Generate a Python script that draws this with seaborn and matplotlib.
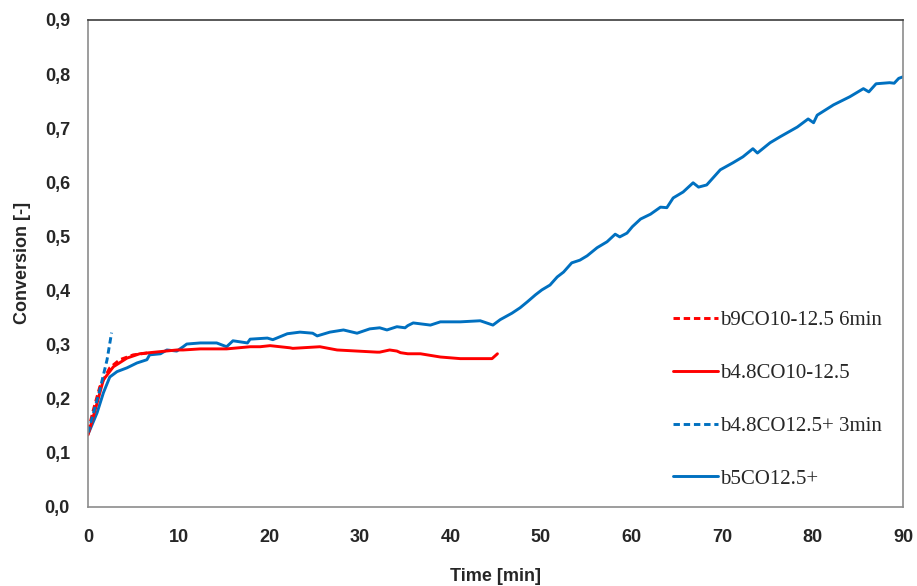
import matplotlib
matplotlib.use("Agg")
import matplotlib.pyplot as plt
import seaborn as sns

# b5CO12.5+ (blue solid)
t_b5 = [0, 0.2, 1.0, 1.7, 2.4, 3.2, 4.3, 5.4, 6.5, 6.8, 8.0, 8.7, 9.8, 10.5, 10.9,
        12.4, 14.2, 15.3, 16.0, 17.6, 17.9, 19.8, 20.4, 22.0, 23.4, 24.8, 25.3,
        26.7, 28.2, 29.7, 31.1, 32.2, 33.0, 34.1, 35.0, 35.3, 35.9, 37.8, 38.9,
        41.1, 43.3, 44.7, 45.5, 46.8, 47.7, 48.5, 49.4, 50.1, 51.0, 51.8, 52.5,
        53.4, 54.3, 55.1, 56.2, 57.3, 58.2, 58.7, 59.5, 60.1, 61.0, 62.1, 63.2,
        63.9, 64.6, 65.7, 66.8, 67.4, 68.3, 69.8, 71.2, 72.3, 73.4, 73.9, 75.3,
        76.4, 78.3, 79.5, 80.1, 80.5, 82.3, 84.1, 85.6, 86.2, 87.0, 88.5, 89.0,
        89.5, 90.0]
v_b5 = [0.135, 0.142, 0.174, 0.211, 0.240, 0.250, 0.257, 0.266, 0.272, 0.281,
        0.283, 0.290, 0.288, 0.296, 0.301, 0.303, 0.303, 0.296, 0.307, 0.303,
        0.310, 0.312, 0.309, 0.320, 0.323, 0.321, 0.316, 0.323, 0.327, 0.321,
        0.329, 0.331, 0.327, 0.333, 0.331, 0.335, 0.340, 0.336, 0.342, 0.342,
        0.344, 0.336, 0.346, 0.358, 0.368, 0.379, 0.392, 0.401, 0.410, 0.425,
        0.434, 0.451, 0.456, 0.464, 0.479, 0.490, 0.504, 0.499, 0.506, 0.518,
        0.532, 0.541, 0.554, 0.553, 0.571, 0.582, 0.599, 0.591, 0.595, 0.623,
        0.636, 0.647, 0.662, 0.654, 0.673, 0.684, 0.702, 0.717, 0.710, 0.724,
        0.743, 0.758, 0.773, 0.767, 0.782, 0.784, 0.783, 0.792, 0.795]

# b4.8CO10-12.5 (red solid)
t_b48 = [0, 1.0, 1.7, 2.8, 4.3, 5.7, 6.8, 8.0, 9.8, 10.5, 12.4, 15.3, 17.9, 19.0,
         20.1, 22.3, 22.6, 25.6, 27.5, 29.7, 31.9, 32.2, 33.3, 34.1, 34.5, 35.3,
         36.7, 38.9, 41.1, 43.3, 44.6, 45.2]
v_b48 = [0.133, 0.192, 0.235, 0.259, 0.275, 0.283, 0.285, 0.287, 0.290, 0.290,
         0.292, 0.292, 0.296, 0.296, 0.298, 0.294, 0.293, 0.296, 0.290, 0.288,
         0.286, 0.286, 0.290, 0.288, 0.285, 0.283, 0.283, 0.277, 0.274, 0.274,
         0.274, 0.283]

# b9CO10-12.5 6min (red dashed)
t_b9 = [0, 0.6, 1.3, 2.4, 3.5, 5.0, 6.8]
v_b9 = [0.140, 0.180, 0.222, 0.257, 0.272, 0.281, 0.285]

# b4.8CO12.5+ 3min (blue dashed)
t_b48p = [0, 0.6, 1.3, 2.1, 2.6]
v_b48p = [0.137, 0.174, 0.216, 0.272, 0.322]

labels = ["b9CO10-12.5 6min", "b4.8CO10-12.5", "b4.8CO12.5+ 3min", "b5CO12.5+"]
x_ticks = list(range(0, 91, 10))
y_ticks = [i / 10 for i in range(0, 10)]

RED = "#FF0000"
BLUE = "#0070C0"
DASH = (0, (2.2, 1.3))

sns.set_style("white")
plt.rcParams["font.family"] = ["Liberation Sans", "DejaVu Sans"]

fig, ax = plt.subplots(figsize=(9.17, 5.86), dpi=100)
fig.subplots_adjust(left=0.096, right=0.985, top=0.966, bottom=0.135)

lw = 2.1
sns.lineplot(x=t_b5, y=v_b5, ax=ax, color=BLUE, lw=lw, label=labels[3])
sns.lineplot(x=t_b48, y=v_b48, ax=ax, color=RED, lw=lw, label=labels[1])
sns.lineplot(x=t_b9, y=v_b9, ax=ax, color=RED, lw=lw, linestyle=DASH, label=labels[0])
sns.lineplot(x=t_b48p, y=v_b48p, ax=ax, color=BLUE, lw=lw, linestyle=DASH, label=labels[2])

ax.set_xlim(0, 90)
ax.set_ylim(0, 0.9)
ax.set_xticks(x_ticks)
ax.set_yticks(y_ticks)
ax.set_xticklabels([str(x) for x in x_ticks])
ax.set_yticklabels([f"{y:.1f}".replace(".", ",") for y in y_ticks])
ax.tick_params(length=0, labelsize=13)
ax.tick_params(axis="y", pad=13)
ax.tick_params(axis="x", pad=16)
for lab in ax.get_xticklabels() + ax.get_yticklabels():
    lab.set_fontweight("bold")

ax.set_xlabel("Time [min]", fontsize=13, fontweight="bold", labelpad=16)
ax.set_ylabel("Conversion [-]", fontsize=13, fontweight="bold", labelpad=10)

for side in ["left", "bottom", "right"]:
    ax.spines[side].set_color("#8C8C8C")
    ax.spines[side].set_linewidth(1.2)
ax.spines["top"].set_color("#3C3C3C")
ax.spines["top"].set_linewidth(1.2)

handles, labs = ax.get_legend_handles_labels()
order = [labs.index(l) for l in labels]
ax.legend([handles[i] for i in order], [labs[i] for i in order],
          loc="upper left", bbox_to_anchor=(0.695, 0.442), frameon=False,
          prop={"family": "Liberation Serif", "size": 15},
          handlelength=2.15, handletextpad=0.1, labelspacing=1.6)

fig.savefig("out.png", dpi=100)
